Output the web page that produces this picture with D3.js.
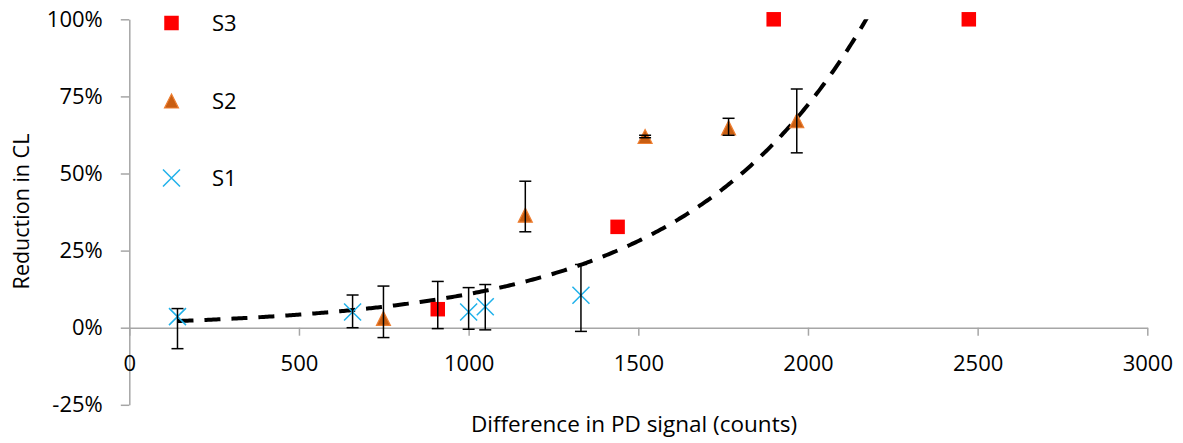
<!DOCTYPE html>
<html>
<head>
<meta charset="utf-8">
<script src="https://cdn.jsdelivr.net/npm/d3@7"></script>
<style>
  html, body { margin: 0; padding: 0; background: #fff; }
  svg { display: block; font-family: "Open Sans", "Noto Sans", sans-serif; }
</style>
</head>
<body>
<svg id="chart" width="1183" height="443"></svg>
<script>
// Series S1 (blue crosses)
const s1X = [142, 658, 1000, 1049, 1331];
const s1Y = [0.036, 0.051, 0.051, 0.068, 0.105];
const s1ErrPlus = [0.026, 0.055, 0.079, 0.072, 0.100];
const s1ErrMinus = [0.104, 0.051, 0.056, 0.075, 0.117];

// Series S2 (orange triangles)
const s2X = [749, 1167, 1520, 1766, 1967];
const s2Y = [0.030, 0.365, 0.620, 0.648, 0.671];
const s2ErrPlus = [0.105, 0.110, 0.004, 0.031, 0.103];
const s2ErrMinus = [0.062, 0.054, 0.004, 0.024, 0.104];

// Series S3 (red squares)
const s3X = [909, 1439, 1899, 2474];
const s3Y = [0.060, 0.327, 1.0, 1.0];
const s3ErrPlus = [0.090, 0, 0, 0];
const s3ErrMinus = [0.063, 0, 0, 0];

// Exponential trendline y = a * exp(b * x)
const trendA = 0.0165;
const trendB = 0.00189;

// Axis ticks
const xTicks = [0, 500, 1000, 1500, 2000, 2500, 3000];
const yTicks = [-0.25, 0, 0.25, 0.5, 0.75, 1.0];

const xTitle = "Difference in PD signal (counts)";
const yTitle = "Reduction in CL";

const svg = d3.select("#chart");
const axisColor = "#a6a6a6";

const x = d3.scaleLinear().domain([0, 3000]).range([129.3, 1147.3]);
const y = d3.scaleLinear().domain([-0.25, 1]).range([404.8, 19.3]);

// Percent labels with a plain hyphen for negatives
const pct = d => `${Math.round(d * 100)}%`;

// Clip region for the plot area
svg.append("defs").append("clipPath").attr("id", "plotClip")
  .append("rect")
  .attr("x", x(0)).attr("y", y(1))
  .attr("width", x(3000) - x(0)).attr("height", y(-0.25) - y(1));

// Y axis
const yAxis = svg.append("g")
  .attr("transform", `translate(${x(0)},0)`)
  .call(d3.axisLeft(y).tickValues(yTicks).tickSize(8.5).tickSizeOuter(0)
    .tickPadding(18).tickFormat(pct));
yAxis.select(".domain").attr("stroke", axisColor).attr("stroke-width", 1.5);
yAxis.selectAll(".tick line").attr("stroke", axisColor).attr("stroke-width", 1.5);
yAxis.selectAll(".tick text").attr("font-size", 22).attr("fill", "#000")
  .attr("font-family", "Open Sans");

// X axis crossing at 0%
const xAxis = svg.append("g")
  .attr("transform", `translate(0,${y(0)})`)
  .call(d3.axisBottom(x).tickValues(xTicks).tickSize(8).tickSizeOuter(0)
    .tickPadding(20).tickFormat(d3.format("d")));
xAxis.select(".domain").attr("stroke", axisColor).attr("stroke-width", 1.5);
xAxis.selectAll(".tick line").attr("stroke", axisColor).attr("stroke-width", 1.5);
xAxis.selectAll(".tick text").attr("font-size", 22).attr("fill", "#000")
  .attr("font-family", "Open Sans");

// Axis titles
svg.append("text")
  .attr("x", 634).attr("y", 424).attr("dy", "0.35em")
  .attr("text-anchor", "middle").attr("font-size", 22.5).attr("fill", "#000")
  .text(xTitle);
svg.append("text")
  .attr("transform", `translate(21,211.5) rotate(-90)`)
  .attr("dy", "0.35em")
  .attr("text-anchor", "middle").attr("font-size", 21.5).attr("fill", "#000")
  .text(yTitle);

const plot = svg.append("g").attr("clip-path", "url(#plotClip)");

// Marker drawers
const blue = "#1fb1ea";
const redColor = "#ff0000";
const orangeFill = "#c95e12";
const orangeEdge = "#ee7f32";

function drawCross(g, cx, cy, size) {
  const h = size / 2;
  g.append("path")
    .attr("d", `M${cx - h},${cy - h}L${cx + h},${cy + h}M${cx - h},${cy + h}L${cx + h},${cy - h}`)
    .attr("stroke", blue).attr("stroke-width", 1.5).attr("fill", "none");
}
function drawTriangle(g, cx, cy, size) {
  const h = size / 2;
  g.append("path")
    .attr("d", `M${cx},${cy - h}L${cx + h},${cy + h}L${cx - h},${cy + h}Z`)
    .attr("fill", orangeFill).attr("stroke", orangeEdge).attr("stroke-width", 1.2);
}
function drawSquare(g, cx, cy, size) {
  g.append("rect")
    .attr("x", cx - size / 2).attr("y", cy - size / 2)
    .attr("width", size).attr("height", size)
    .attr("fill", redColor);
}

const series = [
  { xs: s1X, ys: s1Y, plus: s1ErrPlus, minus: s1ErrMinus, draw: drawCross, size: 17 },
  { xs: s2X, ys: s2Y, plus: s2ErrPlus, minus: s2ErrMinus, draw: drawTriangle, size: 14 },
  { xs: s3X, ys: s3Y, plus: s3ErrPlus, minus: s3ErrMinus, draw: drawSquare, size: 14.5 }
];

// Markers
const markerLayer = svg.append("g");
series.forEach(s => {
  s.xs.forEach((xv, i) => s.draw(markerLayer, x(xv), y(s.ys[i]), s.size));
});

// Error bars
const errLayer = svg.append("g").attr("stroke", "#000").attr("stroke-width", 1.5);
const capHalf = 6;
series.forEach(s => {
  s.xs.forEach((xv, i) => {
    if (!s.plus[i] && !s.minus[i]) return;
    const cx = x(xv);
    const top = y(s.ys[i] + s.plus[i]);
    const bot = y(s.ys[i] - s.minus[i]);
    errLayer.append("line").attr("x1", cx).attr("x2", cx).attr("y1", top).attr("y2", bot);
    errLayer.append("line").attr("x1", cx - capHalf).attr("x2", cx + capHalf).attr("y1", top).attr("y2", top);
    errLayer.append("line").attr("x1", cx - capHalf).attr("x2", cx + capHalf).attr("y1", bot).attr("y2", bot);
  });
});

// Trendline over the full data range
const allX = s1X.concat(s2X, s3X);
const xMin = d3.min(allX), xMax = d3.max(allX);
const trendPts = d3.range(xMin, xMax + 1, 5).map(v => [v, trendA * Math.exp(trendB * v)]);
plot.append("path")
  .datum(trendPts)
  .attr("d", d3.line().x(d => x(d[0])).y(d => y(d[1])))
  .attr("fill", "none").attr("stroke", "#000")
  .attr("stroke-width", 4).attr("stroke-dasharray", "16 11");

// Legend
const legendItems = [
  { label: "S3", draw: drawSquare, size: 14.5, cy: 23 },
  { label: "S2", draw: drawTriangle, size: 14, cy: 101 },
  { label: "S1", draw: drawCross, size: 17, cy: 178 }
];
const legend = svg.append("g");
legendItems.forEach(it => {
  it.draw(legend, 171.5, it.cy, it.size);
  legend.append("text")
    .attr("x", 212).attr("y", it.cy).attr("dy", "0.35em")
    .attr("font-size", 22).attr("fill", "#000")
    .text(it.label);
});
</script>
</body>
</html>
